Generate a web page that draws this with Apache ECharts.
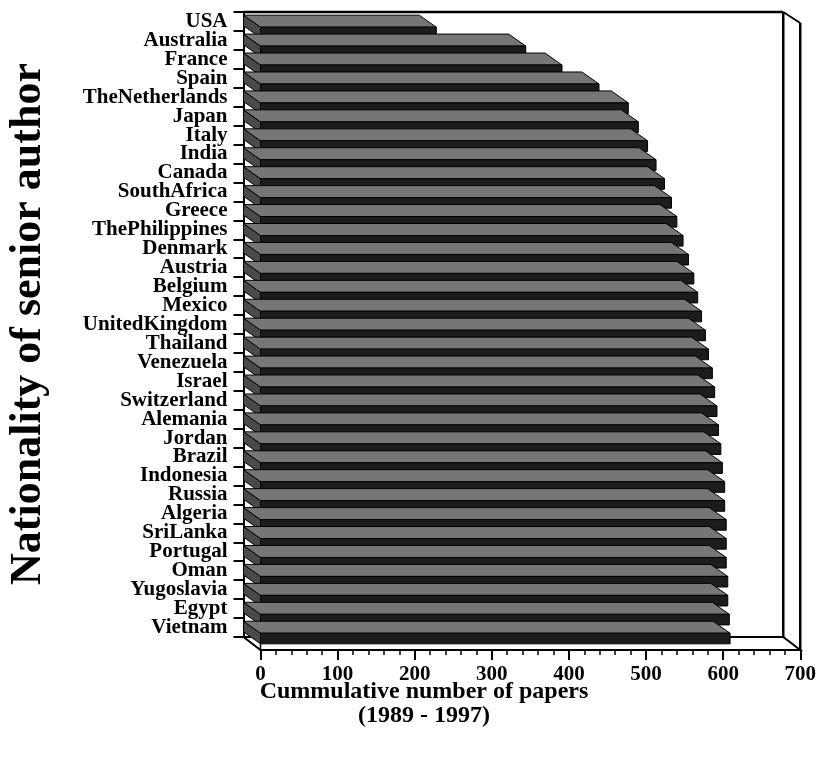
<!DOCTYPE html>
<html>
<head>
<meta charset="utf-8">
<script src="https://cdn.jsdelivr.net/npm/echarts/dist/echarts.min.js"></script>
<style>
  html, body { margin: 0; padding: 0; background: #ffffff; }
  #chart { width: 819px; height: 758px; }
</style>
</head>
<body>
<div id="chart"></div>
<script>
// Countries, top to bottom
const countries = [
  'USA', 'Australia', 'France', 'Spain', 'TheNetherlands', 'Japan', 'Italy',
  'India', 'Canada', 'SouthAfrica', 'Greece', 'ThePhilippines', 'Denmark',
  'Austria', 'Belgium', 'Mexico', 'UnitedKingdom', 'Thailand', 'Venezuela',
  'Israel', 'Switzerland', 'Alemania', 'Jordan', 'Brazil', 'Indonesia',
  'Russia', 'Algeria', 'SriLanka', 'Portugal', 'Oman', 'Yugoslavia', 'Egypt',
  'Vietnam'
];
// Cumulative number of papers (1989 - 1997)
const papers = [
  228, 344, 391, 439, 477, 490, 502,
  513, 524, 533, 540, 548, 555,
  562, 567, 572, 577, 581, 586,
  589, 592, 594, 597, 599, 602,
  602, 604, 604, 604, 606, 606, 608,
  609
];
const xMin = 0, xMax = 700, xStep = 100;

const FONT = "'Liberation Serif', 'Times New Roman', serif";
const DEPTH = [-17, -13];      // box depth (back plane offset)
const BAR_DEPTH = [-17, -12];  // bar depth
const BAR_FRAC = 0.56;         // bar thickness as share of band
const BAR_SHIFT = 2;           // bars sit slightly above band centre

const FRONT = { left: 260.5, top: 25, width: 541, height: 625 };
const BACK = {
  left: FRONT.left + DEPTH[0], top: FRONT.top + DEPTH[1],
  width: FRONT.width, height: FRONT.height
};

const chart = echarts.init(document.getElementById('chart'), null, { renderer: 'canvas' });

// Box: floor, back wall edges and right-hand side edges
function renderFrame(params, api) {
  const n = countries.length;
  const band = api.size([0, 1])[1];
  const xl = api.coord([xMin, 0])[0];
  const xr = api.coord([xMax, 0])[0];
  const yt = api.coord([xMin, 0])[1] - band / 2;
  const yb = api.coord([xMin, n - 1])[1] + band / 2;
  const dx = DEPTH[0], dy = DEPTH[1];
  const line = (a, b, w) => ({
    type: 'line', shape: { x1: a[0], y1: a[1], x2: b[0], y2: b[1] },
    style: { stroke: '#000', lineWidth: w || 2 }
  });
  return {
    type: 'group',
    children: [
      { type: 'polygon', shape: { points: [[xl, yb], [xr, yb], [xr + dx, yb + dy], [xl + dx, yb + dy]] },
        style: { fill: '#fff', stroke: '#000', lineWidth: 2 } },
      line([xl + dx, yt + dy], [xr + dx, yt + dy], 2.5),
      line([xr + dx, yt + dy], [xr + dx, yb + dy], 2.5),
      line([xr + dx, yt + dy], [xr, yt - 2], 2),
      line([xr, yt - 2], [xr, yb], 2.5),
      line([xl, yt], [xl, yb], 1.5)
    ]
  };
}

// One 3D bar: left end face, top face and front face
function renderBar(params, api) {
  const v = api.value(0), c = api.value(1);
  const p0 = api.coord([xMin, c]);
  const p1 = api.coord([v, c]);
  const band = api.size([0, 1])[1];
  const h = band * BAR_FRAC;
  const yc = p0[1] - BAR_SHIFT;
  const yt = yc - h / 2, yb = yc + h / 2;
  const x0 = p0[0], x1 = p1[0];
  const dx = BAR_DEPTH[0], dy = BAR_DEPTH[1];
  const edge = { stroke: '#000', lineWidth: 1 };
  return {
    type: 'group',
    children: [
      { type: 'polygon', shape: { points: [[x0, yt], [x0, yb], [x0 + dx, yb + dy], [x0 + dx, yt + dy]] },
        style: Object.assign({ fill: '#4a4a4a' }, edge) },
      { type: 'polygon', shape: { points: [[x0, yt], [x1, yt], [x1 + dx, yt + dy], [x0 + dx, yt + dy]] },
        style: Object.assign({ fill: '#767676' }, edge) },
      { type: 'rect', shape: { x: x0, y: yt, width: x1 - x0, height: h },
        style: Object.assign({ fill: '#1c1c1c' }, edge) }
    ]
  };
}

const option = {
  backgroundColor: '#ffffff',
  animation: false,
  grid: [
    Object.assign({ containLabel: false }, FRONT),
    Object.assign({ containLabel: false }, BACK)
  ],
  xAxis: [
    {
      type: 'value', gridIndex: 0, min: xMin, max: xMax, interval: xStep,
      axisLine: { show: true, lineStyle: { color: '#000', width: 2 } },
      axisTick: { show: true, inside: false, length: 10, lineStyle: { color: '#000', width: 2 } },
      minorTick: { show: true, splitNumber: 5, length: 5, lineStyle: { color: '#000', width: 1.5 } },
      splitLine: { show: false },
      axisLabel: { color: '#000', fontFamily: FONT, fontWeight: 'bold', fontSize: 21, margin: 14 }
    },
    {
      type: 'value', gridIndex: 1, min: xMin, max: xMax, interval: xStep, show: false
    }
  ],
  yAxis: [
    {
      type: 'category', gridIndex: 0, data: countries, inverse: true, show: false
    },
    {
      type: 'category', gridIndex: 1, data: countries, inverse: true,
      axisLine: { show: true, lineStyle: { color: '#000', width: 2 } },
      axisTick: { show: true, inside: false, length: 10, alignWithLabel: false, lineStyle: { color: '#000', width: 2 } },
      axisLabel: { color: '#000', fontFamily: FONT, fontWeight: 'bold', fontSize: 21, margin: 16, interval: 0 }
    }
  ],
  graphic: [
    { type: 'text', x: 29, y: 324, rotation: Math.PI / 2,
      style: { text: 'Nationality of senior author', font: "bold 44px " + FONT, fill: '#000',
               textAlign: 'center', textVerticalAlign: 'middle' } },
    { type: 'text', x: 424, y: 692,
      style: { text: 'Cummulative number of papers', font: "bold 24px " + FONT, fill: '#000',
               textAlign: 'center', textVerticalAlign: 'middle' } },
    { type: 'text', x: 424, y: 716,
      style: { text: '(1989 - 1997)', font: "bold 24px " + FONT, fill: '#000',
               textAlign: 'center', textVerticalAlign: 'middle' } }
  ],
  series: [
    {
      type: 'custom', xAxisIndex: 0, yAxisIndex: 0, z: 1,
      renderItem: renderFrame, data: [[0, 0]], silent: true
    },
    {
      type: 'custom', xAxisIndex: 0, yAxisIndex: 0, z: 2,
      renderItem: renderBar,
      data: papers.map((v, i) => [v, i]),
      encode: { x: 0, y: 1 }, silent: true
    }
  ]
};
chart.setOption(option);
</script>
</body>
</html>
